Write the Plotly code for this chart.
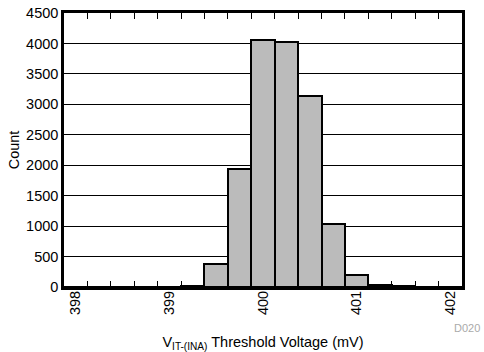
import plotly.graph_objects as go

bin_centers = [398.0, 398.25, 398.5, 398.75, 399.0, 399.25, 399.5, 399.75, 400.0,
               400.25, 400.5, 400.75, 401.0, 401.25, 401.5, 401.75, 402.0]
counts = [0, 0, 0, 0, 3, 20, 385, 1940, 4050, 4020, 3130, 1030, 190, 40, 10, 2, 0]
bin_width = 0.25
x_ticks = [398, 399, 400, 401, 402]
y_ticks = [0, 500, 1000, 1500, 2000, 2500, 3000, 3500, 4000, 4500]

bin_edges = [c - bin_width / 2 for c in bin_centers] + [bin_centers[-1] + bin_width / 2]
x_range = [bin_edges[0], bin_edges[-1]]

font = "Liberation Sans, Arial, sans-serif"

fig = go.Figure()
fig.add_trace(go.Bar(
    x=bin_centers, y=counts, width=bin_width,
    marker=dict(color="#bbbbbb", line=dict(color="black", width=2)),
))
# invisible helper trace so the labelled overlay axis is drawn
fig.add_trace(go.Scatter(
    x=x_ticks, y=[0] * len(x_ticks), xaxis="x2", yaxis="y",
    mode="markers", marker=dict(opacity=0, size=1), hoverinfo="skip",
))

fig.update_layout(
    width=484, height=352,
    margin=dict(l=64, r=22, t=5, b=65),
    plot_bgcolor="white", paper_bgcolor="white",
    showlegend=False, bargap=0,
    font=dict(family=font, size=14.5, color="black"),
    xaxis=dict(
        range=x_range, tickvals=bin_edges, showticklabels=False,
        ticks="inside", ticklen=6, tickcolor="black", tickwidth=1,
        showgrid=False, zeroline=False,
        showline=True, linecolor="black", linewidth=2.5, mirror="ticks",
    ),
    xaxis2=dict(
        overlaying="x", side="bottom", range=x_range,
        tickvals=x_ticks, ticktext=[str(v) for v in x_ticks],
        tickangle=-90, ticks="", showgrid=False, zeroline=False,
        showline=False,
        title=dict(text="V<sub>IT-(INA)</sub> Threshold Voltage (mV)", standoff=22,
                   font=dict(size=14.5)),
    ),
    yaxis=dict(
        range=[0, 4500], tickvals=y_ticks, ticks="",
        showgrid=True, gridcolor="black", gridwidth=1,
        showline=True, linecolor="black", linewidth=2.5, mirror=True,
        zeroline=False,
        title=dict(text="Count", standoff=4, font=dict(size=14.5)),
    ),
)
fig.add_annotation(
    text="D020", x=1.05, y=-0.12, xref="paper", yref="paper",
    showarrow=False, xanchor="right", yanchor="top",
    font=dict(size=11, color="#aaaaaa"),
)

fig.write_html("out.html")
